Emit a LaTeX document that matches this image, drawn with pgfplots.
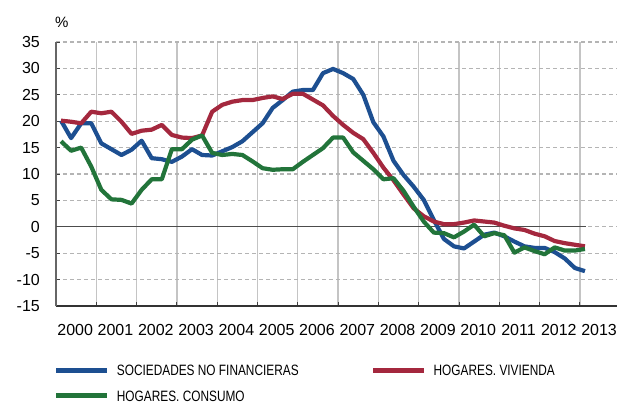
\documentclass[border=0pt]{standalone}
\usepackage{pgfplots}
\pgfplotsset{compat=1.18}
\usepackage{fontspec}
\setmainfont{Liberation Sans}
\newfontfamily\condfont[FakeStretch=0.79]{Liberation Sans}
\definecolor{cblue}{HTML}{1D4F91}
\definecolor{cred}{HTML}{A4283E}
\definecolor{cgreen}{HTML}{22743A}
\definecolor{hgrid}{HTML}{B4B4B4}
\definecolor{vgrid}{HTML}{C4C4C4}

\pgfplotstableread{
x y
0.125 20.1
0.375 16.8
0.625 19.6
0.875 19.6
1.125 15.8
1.375 14.7
1.625 13.6
1.875 14.6
2.125 16.3
2.375 13.0
2.625 12.8
2.875 12.3
3.125 13.3
3.375 14.7
3.625 13.6
3.875 13.5
4.125 14.3
4.375 15.1
4.625 16.2
4.875 17.9
5.125 19.6
5.375 22.5
5.625 24.0
5.875 25.6
6.125 25.9
6.375 25.9
6.625 29.1
6.875 29.9
7.125 29.1
7.375 28.0
7.625 25.0
7.875 19.8
8.125 17.1
8.375 12.5
8.625 9.8
8.875 7.6
9.125 5.1
9.375 1.3
9.625 -2.3
9.875 -3.7
10.125 -4.1
10.375 -2.8
10.625 -1.5
10.875 -1.1
11.125 -1.8
11.375 -2.8
11.625 -3.7
11.875 -4.0
12.125 -4.0
12.375 -4.8
12.625 -6.0
12.875 -7.8
13.125 -8.4
}\snf

\pgfplotstableread{
x y
0.125 20.1
0.375 19.9
0.625 19.6
0.875 21.8
1.125 21.5
1.375 21.8
1.625 19.9
1.875 17.6
2.125 18.2
2.375 18.4
2.625 19.3
2.875 17.4
3.125 16.9
3.375 16.8
3.625 17.3
3.875 21.8
4.125 23.1
4.375 23.7
4.625 24.0
4.875 24.0
5.125 24.4
5.375 24.7
5.625 24.2
5.875 25.2
6.125 25.2
6.375 24.1
6.625 23.0
6.875 21.0
7.125 19.3
7.375 17.8
7.625 16.6
7.875 14.0
8.125 11.2
8.375 8.8
8.625 6.1
8.875 3.5
9.125 2.0
9.375 1.0
9.625 0.5
9.875 0.5
10.125 0.8
10.375 1.2
10.625 1.0
10.875 0.8
11.125 0.2
11.375 -0.3
11.625 -0.6
11.875 -1.3
12.125 -1.8
12.375 -2.7
12.625 -3.1
12.875 -3.4
13.125 -3.7
}\viv

\pgfplotstableread{
x y
0.125 16.2
0.375 14.4
0.625 15.0
0.875 11.4
1.125 7.0
1.375 5.2
1.625 5.1
1.875 4.4
2.125 7.0
2.375 9.0
2.625 9.0
2.875 14.7
3.125 14.7
3.375 16.5
3.625 17.3
3.875 14.0
4.125 13.6
4.375 13.8
4.625 13.6
4.875 12.4
5.125 11.1
5.375 10.8
5.625 10.9
5.875 10.9
6.125 12.3
6.375 13.6
6.625 14.9
6.875 16.9
7.125 16.9
7.375 14.1
7.625 12.5
7.875 10.9
8.125 9.0
8.375 9.2
8.625 6.8
8.875 3.8
9.125 1.0
9.375 -1.1
9.625 -1.2
9.875 -2.0
10.125 -0.9
10.375 0.4
10.625 -1.8
10.875 -1.2
11.125 -1.6
11.375 -4.9
11.625 -3.9
11.875 -4.6
12.125 -5.2
12.375 -3.9
12.625 -4.5
12.875 -4.5
13.125 -4.2
}\con

\begin{document}
\begin{tikzpicture}
\begin{axis}[
  name=ax,
  scale only axis,
  width=564.2bp, height=264bp,
  xmin=0, xmax=14,
  ymin=-15, ymax=35,
  axis x line*=bottom,
  axis y line*=left,
  x axis line style={color=black!80, line width=1.3bp},
  y axis line style={color=black!60, line width=1.6bp},
  tick align=inside,
  major tick length=4.5bp,
  tick style={color=black!75, line width=1bp},
  xtick={0,1,...,13},
  xticklabels={2000,2001,2002,2003,2004,2005,2006,2007,2008,2009,2010,2011,2012,2013},
  xticklabel style={font=\fontsize{16bp}{19bp}\selectfont, inner sep=0pt, anchor=north, xshift=19.2bp, yshift=-18.5bp},
  ytick={-15,-10,...,35},
  yticklabel style={font=\fontsize{16bp}{18bp}\selectfont, inner sep=0pt, anchor=east, xshift=-16bp},
  /pgf/number format/assume math mode=true,
  xmajorgrids, ymajorgrids,
  x grid style={color=vgrid, line width=1.3bp},
  y grid style={color=hgrid, line width=1.1bp, dash pattern=on 4bp off 3bp},
  ylabel={\%},
  ylabel style={rotate=-90, at={(axis description cs:0,1)}, anchor=south west, inner sep=0pt, xshift=-1bp, yshift=14bp, font=\fontsize{15bp}{18bp}\selectfont},
  legend columns=2,
  legend cell align=left,
  legend image code/.code={\draw[#1, line width=5bp, line cap=butt] (0bp,0bp) -- (51bp,0bp);},
  legend style={at={(axis description cs:-0.004,-0.222)}, anchor=north west, draw=none, fill=none, inner sep=0pt,
    font=\condfont\fontsize{15bp}{18bp}\selectfont,
    nodes={inner sep=0pt, text height=11bp, text depth=0pt},
    row sep=14.6bp,
    /tikz/every odd column/.append style={column sep=7bp},
    /tikz/every even column/.append style={column sep=72bp}},
  clip=false,
]
\addplot[forget plot, color=black!70, line width=1.2bp] coordinates {(0,0) (13.15,0)};
\addplot[color=cblue, line width=4.2bp, line join=round] table {\snf};
\addlegendentry{SOCIEDADES NO FINANCIERAS}
\addplot[color=cred, line width=4.2bp, line join=round] table {\viv};
\addlegendentry{HOGARES. VIVIENDA}
\addplot[color=cgreen, line width=4.2bp, line join=round] table {\con};
\addlegendentry{HOGARES. CONSUMO}
\end{axis}
\pgfresetboundingbox
\path[use as bounding box] ([shift={(-56bp,-99bp)}]ax.south west) rectangle ([shift={(561bp,306bp)}]ax.south west);
\end{tikzpicture}
\end{document}
